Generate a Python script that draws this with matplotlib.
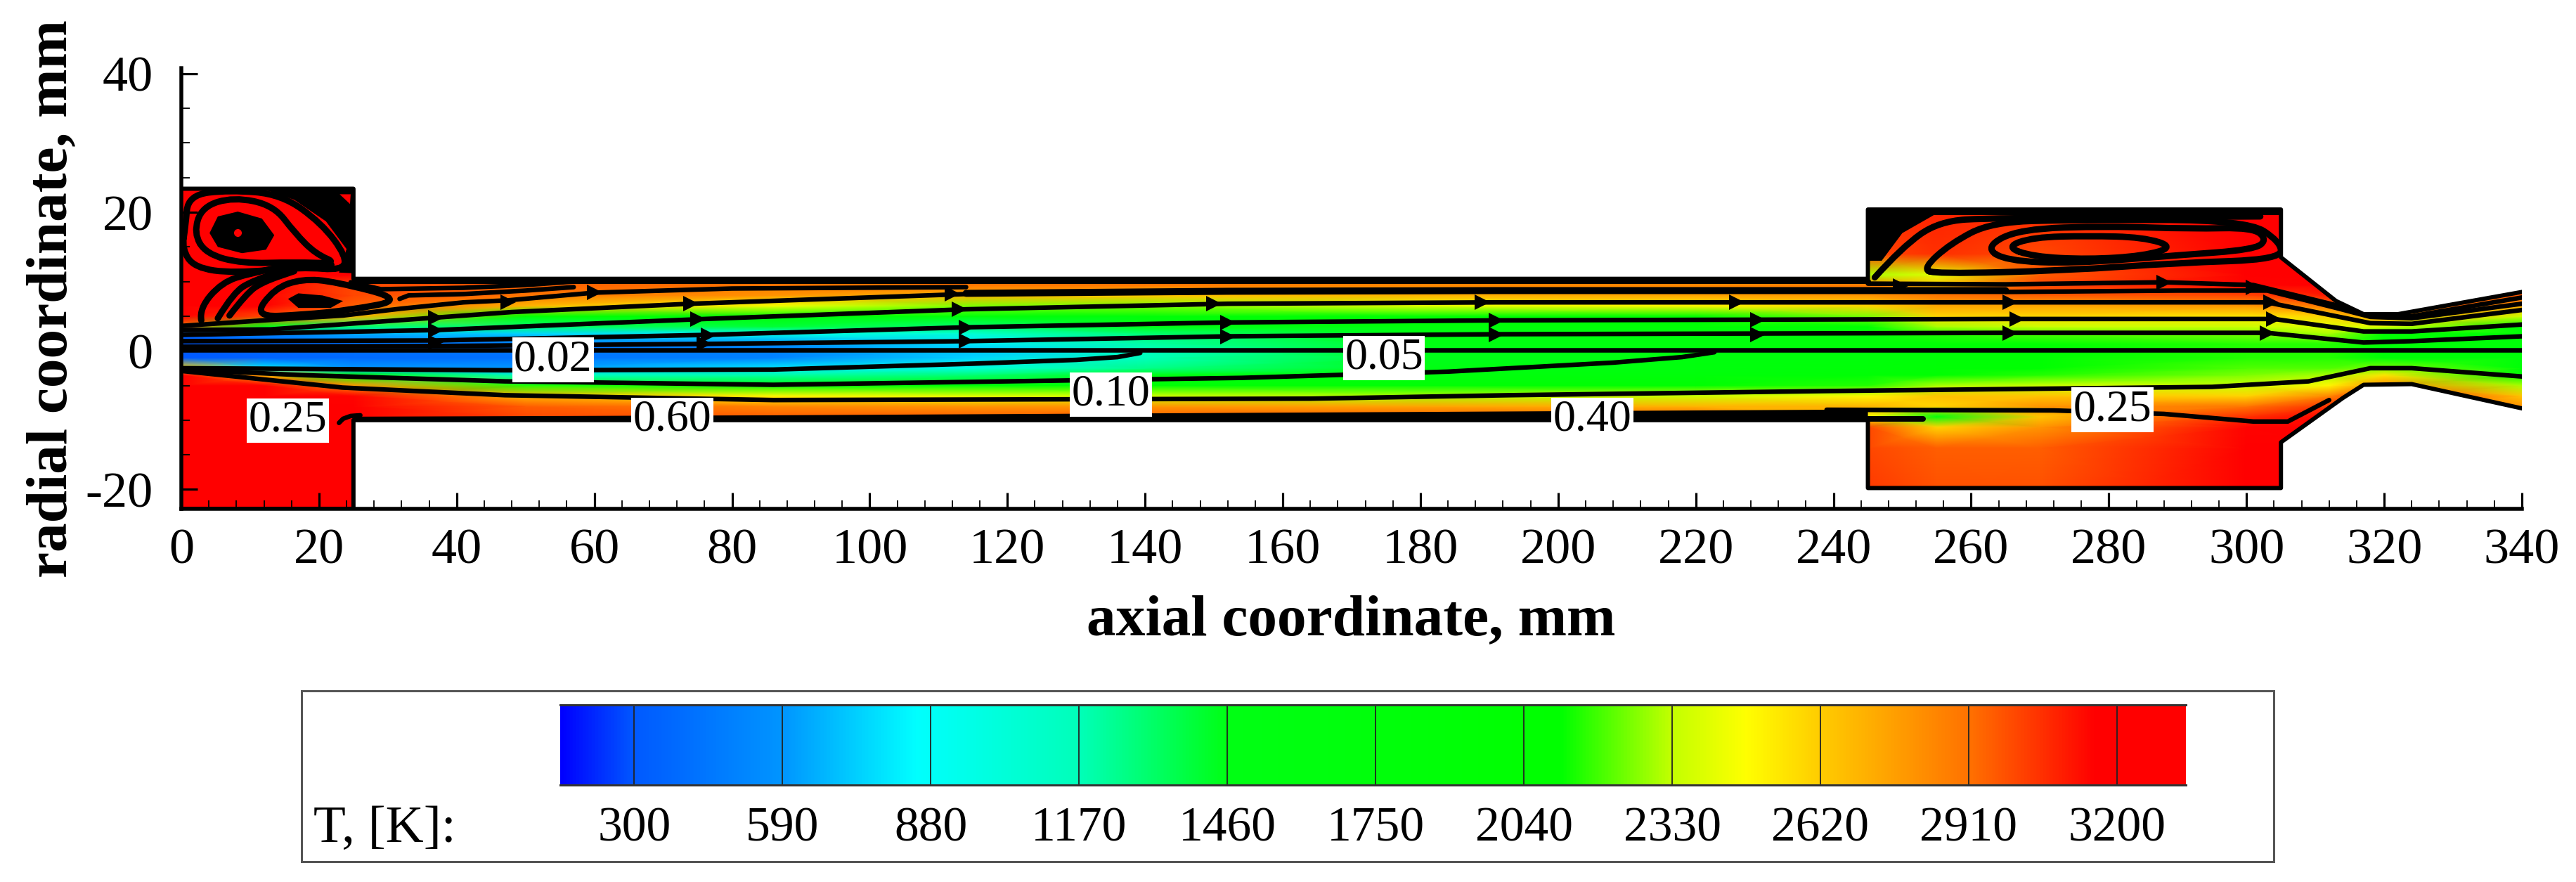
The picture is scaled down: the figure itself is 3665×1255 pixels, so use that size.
import numpy as np
import matplotlib
matplotlib.use("Agg")
import matplotlib.pyplot as plt
from matplotlib.colors import LinearSegmentedColormap
from matplotlib.patches import Polygon, PathPatch
from matplotlib.path import Path
from matplotlib.ticker import MultipleLocator

plt.rcParams['font.family'] = ['Liberation Serif', 'DejaVu Serif']

W, H = 3666, 1255

# ---------- colour scale ----------
cb_T = [155, 300, 590, 850, 1170, 1460, 2114, 2330, 2476, 2620, 2910, 3160, 3335]
cb_rgb = [(0,0,255),(0,90,255),(0,150,255),(0,255,255),(0,255,185),(0,255,20),(0,255,0),
          (195,255,0),(255,255,0),(255,205,0),(255,115,0),(255,0,0),(255,0,0)]
levels = [300, 590, 880, 1170, 1460, 1750, 2040, 2330, 2620, 2910, 3200]

# ---------- geometry ----------
wall_x = [0, 25, 25, 245, 245, 305, 305, 313, 317, 322, 340,
          340, 324, 317, 314, 305, 305, 245, 245, 25, 25, 0]
wall_y = [23.4, 23.4, 10.4, 10.4, 20.4, 20.4, 13.5, 7.2, 5.3, 5.3, 8.5,
          -8.3, -4.8, -4.9, -6.8, -13.2, -19.8, -19.8, -10, -10, -22.8, -22.8]

# ---------- temperature field ----------
field_x = [0, 12, 25, 50, 86, 115, 140, 180, 220, 245, 255, 270, 300, 312, 320, 340]
field_y = [-24, -14, -11, -9.5, -8, -6.5, -5, -3.5, -2.5, -1, 0, 1, 2.5, 3.5, 5, 6.5, 8, 9.5, 11, 14, 24]
T_0   = [3250,3250,3250,3250,3250,3250,3250,3250,2600,300,300,300,350,2900,3200,3250,3250,3250,3250,3250,3250]
T_12  = [3250,3250,3250,3250,3250,3250,3200,2700,800,350,350,350,500,1600,3000,3200,3200,3200,3250,3250,3250]
T_25  = [3250,3250,3250,3250,3250,3150,2800,1800,600,380,400,400,650,1300,2700,2950,3000,3000,3200,3250,3250]
T_50  = [3250,3250,3200,3000,2950,2700,2150,1100,600,420,430,430,750,1300,2000,2700,2900,2950,3000,3200,3200]
T_86  = [3250,3250,3200,2950,2850,2500,1900,1200,800,500,480,550,950,1400,1950,2450,2800,2900,3000,3200,3200]
T_115 = [3250,3250,3200,2950,2800,2400,1950,1300,1000,750,700,800,1050,1300,1800,2250,2700,2900,3000,3200,3200]
T_140 = [3250,3250,3200,2950,2800,2350,1950,1500,1250,1150,1150,1200,1300,1500,1850,2250,2650,2900,3000,3200,3200]
T_180 = [3250,3250,3200,2950,2750,2300,1950,1650,1500,1450,1450,1500,1550,1750,2000,2400,2700,2850,3000,3200,3200]
T_220 = [3250,3250,3200,2950,2700,2350,2050,1800,1700,1650,1650,1700,1750,1950,2100,2500,2750,2850,2900,3200,3200]
T_245 = [3050,3000,3000,2500,2700,2500,2150,1950,1850,1800,1800,1850,1900,2100,2250,2600,2800,2900,2300,3000,3100]
T_255 = [3000,2950,2600,1700,2600,2650,2300,2050,1950,1900,1900,1950,2150,2300,2600,2750,2900,2650,2400,3050,3100]
T_270 = [3000,2950,2800,2650,2800,2650,2350,2150,2050,2000,2000,2050,2200,2350,2600,2750,2950,3000,2950,3000,3100]
T_300 = [3200,3200,3150,3050,2900,2600,2350,2250,2200,2150,2150,2150,2250,2350,2550,2800,3000,3150,3200,3200,3200]
T_312 = [3250,3250,3200,3200,3050,2850,2500,2300,2200,2150,2150,2150,2300,2400,2600,2900,3100,3200,3200,3200,3200]
T_320 = [3250,3250,3200,3100,3100,3100,2850,2550,2250,1900,1850,1900,2100,2400,2800,3100,3100,3100,3100,3100,3100]
T_340 = [3000,3000,2950,2850,2800,2650,2300,2000,1900,1800,1800,1800,1850,1950,2350,2750,2950,3000,3000,3000,3000]
field_cols = [T_0,T_12,T_25,T_50,T_86,T_115,T_140,T_180,T_220,T_245,T_255,T_270,T_300,T_312,T_320,T_340]

# ---------- streamlines (x mm, y mm) ----------
centre_x = [0, 340]; centre_y = [0.1, 0.1]
A_x = [0,37,76,114,152,191,229,265,303,317,324,340]
A_y = [0.6,0.7,1.0,1.4,2.1,2.4,2.5,2.6,2.6,1.2,1.4,2.1]
B_x = [0,37,76,114,152,191,229,265,304,317,324,340]
B_y = [1.4,1.5,2.3,3.4,4.1,4.4,4.5,4.6,4.6,2.8,2.8,3.8]
C_x = [0,37,76,114,152,191,229,265,303,318,324,340]
C_y = [2.3,3.0,4.6,6.0,6.8,7.0,7.0,7.0,7.0,4.0,3.9,5.9]
D_x = [0,13,37,48,74,114,152]
D_y = [3.0,3.1,4.8,5.6,6.8,8.2,8.6]
Dband_x = [114,152,191,229,265]
Dband_y = [8.3,8.6,8.7,8.7,8.7]
Dtail_x = [265,290,303,313,318,324,340]
Dtail_y = [8.5,8.7,8.7,6.2,4.9,4.7,6.8]
Etail_x = [245,265,288,301,313,318,324,340]
Etail_y = [9.7,9.6,9.9,9.5,6.6,5.2,5.0,7.7]
E_x = [0,12,23.5,32,41,47.5,60,80,114]
E_y = [3.6,4.4,5.1,6.1,7.0,7.3,8.4,9.0,9.2]
wallband_x = [25,245]; wallband_y = [10.05,10.05]

low1_x = [0,17,47,86,115,130,136,139.3]
low1_y = [-2.5,-2.6,-2.8,-2.7,-1.85,-1.3,-0.9,-0.3]
low2_x = [0,17.5,47,86,120,154,184,208,218,222.7]
low2_y = [-2.7,-3.5,-4.4,-4.9,-4.4,-3.9,-3.0,-1.7,-0.9,-0.2]
low3_x = [0,23.4,47,86,164,193,239,295,309,318,324,340]
low3_y = [-2.9,-5.3,-6.4,-7.1,-6.9,-6.4,-5.8,-5.2,-4.4,-2.5,-2.5,-3.7]
low4_x = [239,272,288,301,306,312]
low4_y = [-8.5,-8.6,-9.1,-10.2,-10.2,-7.1]
lowband_x = [25,86,183,239,245,245,25]
lowband_y = [-9.5,-9.3,-8.8,-8.5,-8.7,-10,-10]
hook_x = [22.9,23.5,24.6,26]; hook_y = [-10.4,-9.8,-9.4,-9.3]
stub_x = [245,253]; stub_y = [-9.8,-9.8]

disc_x = [4.1,5.3,8.2,11.7,13.5,12.3,8.8,5.3]
disc_y = [17.0,19.4,20.1,19.1,16.7,14.6,14.1,15.0]
ring2_x = [1.8,3.0,7.6,13.4,16.5,19.5,22.8,16.4,8.8,3.6]
ring2_y = [17,20.8,22.2,21.0,17,14,12.6,12.8,12.6,14.0]
ring3_x = [0.6,1.0,7,14.5,20.4,24.0,23.4,17.6,7.6,1.9,0.1]
ring3_y = [18,22.5,23.2,22.6,18.4,13.6,11.6,12.1,11.2,12.0,14.7]
corner_x = [11.7,25,25,22.9,24,21,16.4]
corner_y = [23.4,23.4,11.2,11.3,14.7,18.7,21.8]
speck_x = [23,24.6,24.5]; speck_y = [22.6,22.6,21.2]
fan1_x = [2.9,2.6,5.9,10,17,21.8]; fan1_y = [4.4,6.1,9.9,11.2,12.6,12.4]
fan2_x = [5.3,7.6,10.6,14.7]; fan2_y = [4.7,8.5,10.2,11.5]
fan3_x = [7,9.4,11.7,16.4]; fan3_y = [5.1,8.2,9.9,11.5]
vort_x = [10.5,13.5,17.6,22.3,32.5,24.6,17.6]
vort_y = [4.9,9.0,10.4,10.0,7.4,5.9,5.2]
blob_x = [15.5,17,20.5,23.5,21.7,17]; blob_y = [7.5,8.3,8.0,7.2,6.2,6.2]
tail1_x = [24.6,29,41,50,57,86]; tail1_y = [9.9,8.9,9.1,9.5,10,10]
tail2_x = [31.7,33,41,50,57]; tail2_y = [7.5,8.0,8.2,8.7,9.2]

out1_x = [265,269,277,285,289.5,285,277,269]
out1_y = [15,16.4,16.6,16.4,15,13.7,13.2,13.6]
out2_x = [262,267,280,292,301,303,301,290,275,265]
out2_y = [15,17.6,18.0,17.6,17.8,16,14.6,13.8,12.6,13.0]
out3_x = [253,257,263,275,300,305,305,290,274,254.7]
out3_y = [11.9,15.5,18.6,18.9,18.9,15.7,13.2,12.7,11.6,11.1]
out4_x = [246,250,255.3,263,302]; out4_y = [10.6,15,18.7,19.2,19.4]
out_corner_x = [245,256,250,247,245]; out_corner_y = [20.4,20.4,17,13,13]
wtop_x = [245,305]; wtop_y = [20.0,20.0]

arrow_x = [37,37,37,47.5,60,74,75,76.6,76,113,114,114,112,150,152,152,189,191,191,226,229,229,
           265.7,266.7,265.7,249.7,288,301,303.5,304,303]
arrow_y = [4.8,3.0,1.2,7.0,8.4,6.8,4.6,2.3,1.0,6.0,3.4,1.4,8.2,6.8,4.1,2.1,7.0,4.4,2.4,7.0,4.5,2.4,
           7.0,4.6,2.6,9.4,9.9,9.2,7.0,4.6,2.6]

label_text = ['0.25','0.02','0.60','0.10','0.05','0.40','0.25']
label_x = [15.5,54,71.3,135,174.7,205,280.5]
label_y = [-10.1,-1.3,-10.0,-6.3,-1.0,-10.0,-8.5]

x_major = list(range(0, 341, 20))
y_major = [-20, 0, 20, 40]

# ---------- figure ----------
def ax_px(l, t, r, b):
    return [l/W, 1-b/H, (r-l)/W, (b-t)/H]
px = 72/100  # points per pixel at dpi 100

fig = plt.figure(figsize=(W/100, H/100), dpi=100, facecolor='white')
ax = fig.add_axes(ax_px(258, 97, 3588, 724))
ax.set_xlim(0, 340); ax.set_ylim(-22.8, 40.8)

cmap = LinearSegmentedColormap.from_list(
    'tec', [((t-cb_T[0])/(cb_T[-1]-cb_T[0]), tuple(c/255 for c in rgb)) for t, rgb in zip(cb_T, cb_rgb)], N=512)
poly = Polygon(np.column_stack([wall_x, wall_y]), closed=True, transform=ax.transData, fc='none', ec='none')
ax.add_patch(poly)
T = np.array(field_cols).T
mesh = ax.pcolormesh(field_x, field_y, T, shading='gouraud', cmap=cmap, vmin=cb_T[0], vmax=cb_T[-1], zorder=1)
mesh.set_clip_path(poly)

def ln(xs, ys, w=6.5):
    art, = ax.plot(xs, ys, color='k', lw=w*px, solid_joinstyle='round', solid_capstyle='round', zorder=3)
    art.set_clip_path(poly)

def curve(xs, ys, w=9.0, closed=True):
    """Draws a smooth quadratic path with the read points as control points."""
    p = np.column_stack([xs, ys]).astype(float)
    if closed:
        mids = (p + np.roll(p, -1, axis=0)) / 2
        verts = [mids[-1]]; codes = [Path.MOVETO]
        for i in range(len(p)):
            verts += [p[i], mids[i]]; codes += [Path.CURVE3, Path.CURVE3]
    else:
        mids = (p[:-1] + p[1:]) / 2
        verts = [p[0]]; codes = [Path.MOVETO]
        for i in range(1, len(p)-1):
            verts += [p[i], mids[i]]; codes += [Path.CURVE3, Path.CURVE3]
        verts.append(p[-1]); codes.append(Path.LINETO)
    patch = PathPatch(Path(verts, codes), fc='none', ec='k', lw=w*px, zorder=3, joinstyle='round', capstyle='round')
    ax.add_patch(patch)
    patch.set_clip_path(poly)

for xs, ys in [(centre_x,centre_y),(A_x,A_y),(B_x,B_y),(C_x,C_y),(D_x,D_y),(Dtail_x,Dtail_y),(Etail_x,Etail_y),
               (E_x,E_y),(low1_x,low1_y),(low2_x,low2_y),(low3_x,low3_y),(hook_x,hook_y),(low4_x,low4_y),
               (tail1_x,tail1_y),(tail2_x,tail2_y)]:
    ln(xs, ys)
ln(Dband_x, Dband_y, 10)
ln(wallband_x, wallband_y, 7)
ln(stub_x, stub_y, 8)
ln(wtop_x, wtop_y, 7)

for xs, ys in [(ring2_x,ring2_y),(ring3_x,ring3_y),(vort_x,vort_y),
               (out1_x,out1_y),(out2_x,out2_y),(out3_x,out3_y)]:
    curve(xs, ys)
for xs, ys in [(fan1_x,fan1_y),(fan2_x,fan2_y),(fan3_x,fan3_y),(out4_x,out4_y)]:
    curve(xs, ys, closed=False)

for xs, ys in [(disc_x,disc_y),(corner_x,corner_y),(blob_x,blob_y),(out_corner_x,out_corner_y),(lowband_x,lowband_y)]:
    f = ax.fill(xs, ys, color='k', lw=0, zorder=3)[0]
    f.set_clip_path(poly)
ax.fill(speck_x, speck_y, color='#ff0000', lw=0, zorder=4)
ax.plot(disc_x[2], 17.1, marker='o', ms=8, color='#ff0000', mew=0, zorder=4)

ax.plot(arrow_x, arrow_y, ls='none', marker='>', ms=17*px*1.3, color='k', mew=0, zorder=4)

# wall outline
ax.plot(wall_x[:11], wall_y[:11], color='k', lw=6*px, zorder=5, solid_joinstyle='round')
ax.plot(wall_x[11:], wall_y[11:], color='k', lw=6*px, zorder=5, solid_joinstyle='round')
ax.plot([340,340], [wall_y[10], wall_y[11]], color='#888888', lw=1*px, zorder=5)

for t, x, y in zip(label_text, label_x, label_y):
    ax.text(x, y, t, fontsize=46, ha='center', va='center', zorder=6, color='k',
            bbox=dict(fc='white', ec='none', pad=2))

for s in ['top', 'right']:
    ax.spines[s].set_visible(False)
for s in ['left', 'bottom']:
    ax.spines[s].set_linewidth(5.5*px)
    ax.spines[s].set_zorder(7)
ax.set_xticks(x_major); ax.set_yticks(y_major)
ax.xaxis.set_minor_locator(MultipleLocator(4)); ax.yaxis.set_minor_locator(MultipleLocator(5))
ax.tick_params(which='major', direction='in', length=23*px, width=3.2*px, labelsize=52, pad=20, zorder=8)
ax.tick_params(which='minor', direction='in', length=12*px, width=1.8*px, zorder=8)
ax.tick_params(axis='y', pad=29)
ax.set_yticklabels(['-20', '0', '20', '40'])
fig.text(1922/W, 1-884/H, 'axial coordinate, mm', fontsize=60, fontweight='bold', ha='center', va='center')
fig.text(75/W, 1-425/H, 'radial coordinate, mm', fontsize=60, fontweight='bold', ha='center', va='center', rotation=90)

# ---------- legend ----------
box = fig.add_axes(ax_px(429, 983, 3235, 1226))
box.set_xticks([]); box.set_yticks([])
for s in box.spines.values():
    s.set_linewidth(3*px); s.set_edgecolor('#555555')
cb = fig.add_axes(ax_px(797, 1003, 3110, 1117))
grad = np.linspace(cb_T[0], cb_T[-1], 1024).reshape(1, -1)
cb.imshow(grad, aspect='auto', cmap=cmap, vmin=cb_T[0], vmax=cb_T[-1], extent=[cb_T[0], cb_T[-1], 0, 1])
for lv in levels:
    cb.axvline(lv, color='#222222', lw=1.8*px)
cb.set_xticks([]); cb.set_yticks([])
for s in cb.spines.values():
    s.set_visible(False)
cb.plot([cb_T[0], cb_T[-1]], [1, 1], color='#333333', lw=3*px, clip_on=False)
cb.plot([cb_T[0], cb_T[-1]], [0, 0], color='#333333', lw=3*px, clip_on=False)
cb.set_xlim(cb_T[0], cb_T[-1]); cb.set_ylim(0, 1)
for lv in levels:
    xp = 797 + (lv-cb_T[0])/(cb_T[-1]-cb_T[0])*(3110-797)
    fig.text(xp/W, 1-1180/H, str(lv), fontsize=50, ha='center', va='center')
fig.text(446/W, 1-1180/H, 'T, [K]:', fontsize=54, ha='left', va='center')

fig.savefig('out.png', dpi=100, facecolor='white')
